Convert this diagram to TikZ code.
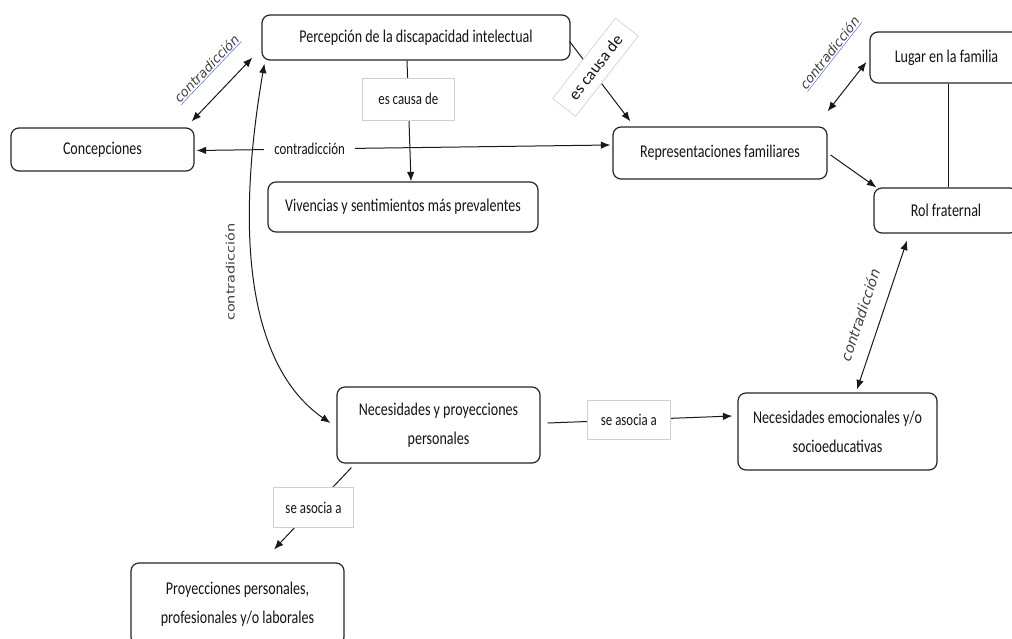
\documentclass[tikz,border=0pt]{standalone}
\usepackage{graphicx}
\usepackage{fontspec}
\setmainfont{Carlito}
\newfontfamily\cf[FakeStretch=0.78]{Carlito}
\newfontfamily\cfplain{Carlito}
\newfontfamily\dv{DejaVu Sans}
\usetikzlibrary{arrows.meta,calc}
\definecolor{txt}{HTML}{141414}
\definecolor{lbl}{HTML}{404040}
\definecolor{lgray}{HTML}{CFCFCF}
\definecolor{ulblue}{HTML}{3355DD}
\newcommand\bluul[1]{{\color{ulblue}\underline{\textcolor{lbl}{#1}}}}
\begin{document}
\begin{tikzpicture}[x=1pt,y=-1pt,
 box/.style={draw=black!85, line width=1.2pt, rounded corners=8pt, fill=white, align=center, text=txt, font=\cf\fontsize{18}{29}\selectfont, inner sep=0pt},
 lab/.style={draw=lgray, line width=0.6pt, fill=white, text=txt, font=\cf\fontsize{16.5}{20}\selectfont, inner sep=0pt},
 conn/.style={line width=1pt, draw=black!90},
 arr/.style={conn, -{Latex[length=9.5pt,width=7.5pt]}},
 darr/.style={conn, {Latex[length=9.5pt,width=7.5pt]}-{Latex[length=9.5pt,width=7.5pt]}},
 ital/.style={text=lbl, font=\dv\itshape\fontsize{13}{15}\selectfont, inner sep=0pt},
]
\useasboundingbox (0,0) rectangle (1012,639);
\fill[white] (0,0) rectangle (1012,639);
\clip (0,0) rectangle (1012,639);

% boxes
\node[box, minimum width=308pt, minimum height=45pt] (perc) at (416,37.5) {Percepción de la discapacidad intelectual};
\node[box, minimum width=183pt, minimum height=43pt] (conc) at (102.5,149.5) {Concepciones};
\node[box, minimum width=270pt, minimum height=50pt] (viv) at (403,207) {Vivencias y sentimientos más prevalentes};
\node[box, minimum width=214pt, minimum height=52pt] (rep) at (720,153) {Representaciones familiares};
\node[box, minimum width=153pt, minimum height=51pt] (lugar) at (946.5,57.5) {Lugar en la familia};
\node[box, minimum width=144pt, minimum height=45pt] (rol) at (946,210.5) {Rol fraternal};
\node[box, minimum width=203pt, minimum height=76pt] (necp) at (438.5,425) {Necesidades y proyecciones\\personales};
\node[box, minimum width=199pt, minimum height=77pt] (nece) at (837.5,431.5) {Necesidades emocionales y/o\\socioeducativas};
\node[box, minimum width=213pt, minimum height=82pt] (proy) at (237.5,604) {Proyecciones personales,\\profesionales y/o laborales};

% connectors
\draw[arr] ([xshift=-9pt]perc.south) -- node[lab, pos=.32, minimum width=92pt, minimum height=42pt] (l1) {es causa de} ([xshift=8pt]viv.north);

\draw[darr] ($(conc.east)+(2,1)$) -- node[pos=.273, fill=white, text=txt, font=\cf\fontsize{16.5}{20}\selectfont, inner xsep=10pt, inner ysep=2pt] (l2) {contradicción} ($(rep.west)+(-2,-8)$);

\draw[darr] ($(conc.north east)+(-3,-6)$) -- node[sloped, pos=.55, above=18pt, ital] (l3) {\bluul{contradicción}} ($(perc.south west)+(-9,-3)$);

\draw[arr] ($(perc.east)+(-1,4)$) -- node[lab, pos=.36, xshift=4pt, yshift=3pt, rotate=52, minimum width=102pt, minimum height=29pt, font=\cfplain\fontsize{16.5}{20}\selectfont] (l4) {es causa de} ($(rep.north west)+(18,-5)$);

\draw[darr] ($(rep.north east)+(0,-15)$) -- node[sloped, pos=.75, above=27pt, ital] (l5) {\bluul{contradicción}} ($(lugar.west)+(-3,4.5)$);

\draw[arr] ($(rep.east)+(3,2)$) -- ($(rol.north west)+(3,0)$);

\draw[conn] ($(lugar.south)+(1.5,0)$) -- ($(rol.north)+(2,0)$);

\draw[darr] ($(nece.north)+(19.5,-3)$) -- node[sloped, pos=.455, above=14.5pt, ital, font=\dv\itshape\fontsize{14.2}{16}\selectfont] (l6) {contradicción} ($(rol.south)+(-39,7)$);

\draw[arr] ($(necp.east)+(7,-2)$) -- node[lab, pos=.44, minimum width=83pt, minimum height=39pt] (l7) {se asocia a} ($(nece.west)+(-5,-15.5)$);

\draw[arr] ($(necp.south west)+(15,4)$) -- node[lab, pos=.49, minimum width=80pt, minimum height=40pt] (l8) {se asocia a} ($(proy.north)+(36.5,-13)$);

\draw[darr] ($(perc.south west)+(3,3)$) .. controls (229,270) and (262,376) .. ($(necp.west)+(-6,-2)$);
\node[rotate=90, text=lbl, font=\dv\fontsize{14.5}{16}\selectfont, inner sep=0pt] (l9) at (230,272) {\scalebox{1}[0.8]{contradicción}};
\end{tikzpicture}
\end{document}
